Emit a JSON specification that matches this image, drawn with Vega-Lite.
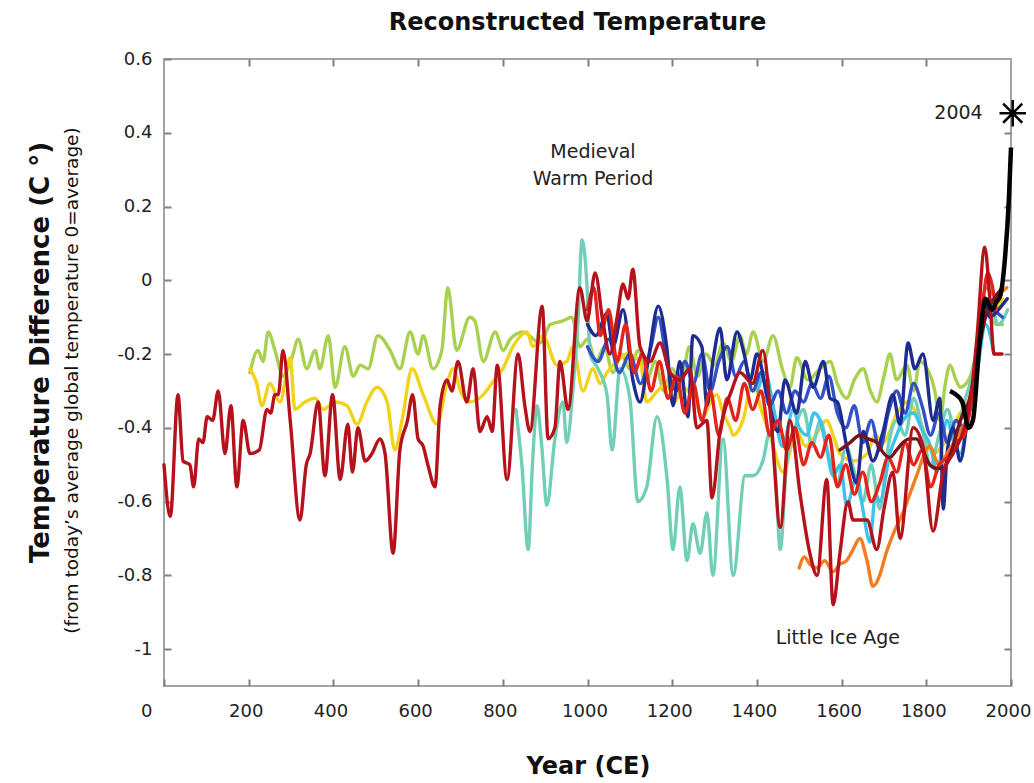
{
  "$schema": "https://vega.github.io/schema/vega-lite/v6.json",
  "width": 847,
  "height": 627,
  "autosize": {"type": "none"},
  "padding": {"left": 164, "top": 59, "right": 23, "bottom": 97},
  "background": "white",
  "title": {"text": "Reconstructed Temperature", "font": "DejaVu Sans", "fontSize": 24, "fontWeight": "bold", "color": "#111111", "anchor": "middle", "offset": 15, "dx": -10},
  "config": {
    "view": {"stroke": "#a3a3a3", "strokeWidth": 2},
    "axis": {"grid": false, "domain": false, "labelFont": "DejaVu Sans", "labelFontSize": 18, "labelColor": "#222222", "tickColor": "#808080", "tickSize": 7, "tickWidth": 2, "offset": -7, "titleFont": "DejaVu Sans", "titleColor": "#111111"}
  },
  "datasets": {
    "series": [
      {"series":"green","year":203,"temp":-0.25},{"series":"green","year":222,"temp":-0.19},{"series":"green","year":234,"temp":-0.22},{"series":"green","year":246,"temp":-0.14},{"series":"green","year":262,"temp":-0.19},{"series":"green","year":281,"temp":-0.26},{"series":"green","year":302,"temp":-0.21},{"series":"green","year":317,"temp":-0.16},{"series":"green","year":337,"temp":-0.24},{"series":"green","year":357,"temp":-0.19},{"series":"green","year":368,"temp":-0.24},{"series":"green","year":388,"temp":-0.15},{"series":"green","year":404,"temp":-0.29},{"series":"green","year":427,"temp":-0.18},{"series":"green","year":447,"temp":-0.26},{"series":"green","year":463,"temp":-0.23},{"series":"green","year":482,"temp":-0.24},{"series":"green","year":505,"temp":-0.15},{"series":"green","year":534,"temp":-0.19},{"series":"green","year":557,"temp":-0.24},{"series":"green","year":581,"temp":-0.14},{"series":"green","year":600,"temp":-0.2},{"series":"green","year":612,"temp":-0.15},{"series":"green","year":635,"temp":-0.24},{"series":"green","year":656,"temp":-0.19},{"series":"green","year":670,"temp":-0.02},{"series":"green","year":691,"temp":-0.19},{"series":"green","year":722,"temp":-0.1},{"series":"green","year":734,"temp":-0.11},{"series":"green","year":754,"temp":-0.22},{"series":"green","year":782,"temp":-0.14},{"series":"green","year":801,"temp":-0.19},{"series":"green","year":817,"temp":-0.16},{"series":"green","year":848,"temp":-0.14},{"series":"green","year":888,"temp":-0.17},{"series":"green","year":912,"temp":-0.12},{"series":"green","year":942,"temp":-0.11},{"series":"green","year":963,"temp":-0.1},{"series":"green","year":982,"temp":-0.18},{"series":"green","year":1000,"temp":-0.16},{"series":"green","year":1020,"temp":-0.22},{"series":"green","year":1040,"temp":-0.18},{"series":"green","year":1060,"temp":-0.25},{"series":"green","year":1080,"temp":-0.2},{"series":"green","year":1100,"temp":-0.24},{"series":"green","year":1120,"temp":-0.19},{"series":"green","year":1140,"temp":-0.27},{"series":"green","year":1160,"temp":-0.22},{"series":"green","year":1180,"temp":-0.3},{"series":"green","year":1200,"temp":-0.24},{"series":"green","year":1220,"temp":-0.29},{"series":"green","year":1240,"temp":-0.18},{"series":"green","year":1260,"temp":-0.26},{"series":"green","year":1280,"temp":-0.2},{"series":"green","year":1300,"temp":-0.23},{"series":"green","year":1320,"temp":-0.17},{"series":"green","year":1340,"temp":-0.22},{"series":"green","year":1360,"temp":-0.15},{"series":"green","year":1375,"temp":-0.2},{"series":"green","year":1391,"temp":-0.14},{"series":"green","year":1415,"temp":-0.22},{"series":"green","year":1438,"temp":-0.15},{"series":"green","year":1460,"temp":-0.24},{"series":"green","year":1478,"temp":-0.29},{"series":"green","year":1494,"temp":-0.21},{"series":"green","year":1520,"temp":-0.27},{"series":"green","year":1549,"temp":-0.24},{"series":"green","year":1573,"temp":-0.22},{"series":"green","year":1590,"temp":-0.28},{"series":"green","year":1612,"temp":-0.32},{"series":"green","year":1630,"temp":-0.27},{"series":"green","year":1651,"temp":-0.24},{"series":"green","year":1668,"temp":-0.3},{"series":"green","year":1683,"temp":-0.33},{"series":"green","year":1700,"temp":-0.26},{"series":"green","year":1714,"temp":-0.2},{"series":"green","year":1730,"temp":-0.27},{"series":"green","year":1754,"temp":-0.23},{"series":"green","year":1770,"temp":-0.3},{"series":"green","year":1785,"temp":-0.22},{"series":"green","year":1802,"temp":-0.24},{"series":"green","year":1820,"temp":-0.3},{"series":"green","year":1832,"temp":-0.38},{"series":"green","year":1845,"temp":-0.28},{"series":"green","year":1856,"temp":-0.23},{"series":"green","year":1870,"temp":-0.27},{"series":"green","year":1880,"temp":-0.29},{"series":"green","year":1900,"temp":-0.27},{"series":"green","year":1920,"temp":-0.18},{"series":"green","year":1935,"temp":-0.05},{"series":"green","year":1950,"temp":-0.09},{"series":"green","year":1965,"temp":-0.12},{"series":"green","year":1980,"temp":-0.12},

      {"series":"yellow","year":203,"temp":-0.24},{"series":"yellow","year":219,"temp":-0.28},{"series":"yellow","year":231,"temp":-0.34},{"series":"yellow","year":250,"temp":-0.28},{"series":"yellow","year":274,"temp":-0.33},{"series":"yellow","year":298,"temp":-0.21},{"series":"yellow","year":309,"temp":-0.35},{"series":"yellow","year":333,"temp":-0.33},{"series":"yellow","year":357,"temp":-0.32},{"series":"yellow","year":376,"temp":-0.35},{"series":"yellow","year":404,"temp":-0.33},{"series":"yellow","year":432,"temp":-0.34},{"series":"yellow","year":456,"temp":-0.39},{"series":"yellow","year":479,"temp":-0.33},{"series":"yellow","year":503,"temp":-0.29},{"series":"yellow","year":527,"temp":-0.33},{"series":"yellow","year":545,"temp":-0.46},{"series":"yellow","year":562,"temp":-0.38},{"series":"yellow","year":586,"temp":-0.24},{"series":"yellow","year":612,"temp":-0.31},{"series":"yellow","year":645,"temp":-0.39},{"series":"yellow","year":668,"temp":-0.28},{"series":"yellow","year":683,"temp":-0.24},{"series":"yellow","year":700,"temp":-0.3},{"series":"yellow","year":722,"temp":-0.33},{"series":"yellow","year":754,"temp":-0.31},{"series":"yellow","year":780,"temp":-0.27},{"series":"yellow","year":800,"temp":-0.24},{"series":"yellow","year":824,"temp":-0.18},{"series":"yellow","year":857,"temp":-0.14},{"series":"yellow","year":871,"temp":-0.18},{"series":"yellow","year":895,"temp":-0.15},{"series":"yellow","year":928,"temp":-0.23},{"series":"yellow","year":951,"temp":-0.22},{"series":"yellow","year":966,"temp":-0.18},{"series":"yellow","year":989,"temp":-0.3},{"series":"yellow","year":1013,"temp":-0.24},{"series":"yellow","year":1030,"temp":-0.28},{"series":"yellow","year":1046,"temp":-0.25},{"series":"yellow","year":1070,"temp":-0.22},{"series":"yellow","year":1093,"temp":-0.2},{"series":"yellow","year":1124,"temp":-0.22},{"series":"yellow","year":1140,"temp":-0.33},{"series":"yellow","year":1165,"temp":-0.3},{"series":"yellow","year":1187,"temp":-0.28},{"series":"yellow","year":1205,"temp":-0.33},{"series":"yellow","year":1226,"temp":-0.29},{"series":"yellow","year":1250,"temp":-0.32},{"series":"yellow","year":1273,"temp":-0.37},{"series":"yellow","year":1290,"temp":-0.33},{"series":"yellow","year":1305,"temp":-0.31},{"series":"yellow","year":1320,"temp":-0.36},{"series":"yellow","year":1337,"temp":-0.4},{"series":"yellow","year":1344,"temp":-0.42},{"series":"yellow","year":1367,"temp":-0.38},{"series":"yellow","year":1391,"temp":-0.27},{"series":"yellow","year":1410,"temp":-0.35},{"series":"yellow","year":1431,"temp":-0.42},{"series":"yellow","year":1462,"temp":-0.52},{"series":"yellow","year":1494,"temp":-0.41},{"series":"yellow","year":1515,"temp":-0.45},{"series":"yellow","year":1533,"temp":-0.43},{"series":"yellow","year":1565,"temp":-0.38},{"series":"yellow","year":1580,"temp":-0.42},{"series":"yellow","year":1596,"temp":-0.47},{"series":"yellow","year":1627,"temp":-0.49},{"series":"yellow","year":1660,"temp":-0.47},{"series":"yellow","year":1680,"temp":-0.42},{"series":"yellow","year":1698,"temp":-0.44},{"series":"yellow","year":1731,"temp":-0.36},{"series":"yellow","year":1754,"temp":-0.33},{"series":"yellow","year":1785,"temp":-0.38},{"series":"yellow","year":1816,"temp":-0.47},{"series":"yellow","year":1849,"temp":-0.43},{"series":"yellow","year":1880,"temp":-0.36},{"series":"yellow","year":1900,"temp":-0.33},{"series":"yellow","year":1920,"temp":-0.2},{"series":"yellow","year":1940,"temp":-0.06},{"series":"yellow","year":1960,"temp":-0.08},{"series":"yellow","year":1980,"temp":-0.05},

      {"series":"teal","year":831,"temp":-0.35},{"series":"teal","year":845,"temp":-0.5},{"series":"teal","year":860,"temp":-0.73},{"series":"teal","year":870,"temp":-0.5},{"series":"teal","year":881,"temp":-0.34},{"series":"teal","year":892,"temp":-0.45},{"series":"teal","year":904,"temp":-0.61},{"series":"teal","year":923,"temp":-0.43},{"series":"teal","year":942,"temp":-0.33},{"series":"teal","year":951,"temp":-0.44},{"series":"teal","year":966,"temp":-0.29},{"series":"teal","year":978,"temp":-0.1},{"series":"teal","year":987,"temp":0.11},{"series":"teal","year":999,"temp":-0.02},{"series":"teal","year":1006,"temp":-0.2},{"series":"teal","year":1025,"temp":-0.24},{"series":"teal","year":1046,"temp":-0.31},{"series":"teal","year":1058,"temp":-0.46},{"series":"teal","year":1077,"temp":-0.24},{"series":"teal","year":1100,"temp":-0.32},{"series":"teal","year":1119,"temp":-0.6},{"series":"teal","year":1140,"temp":-0.56},{"series":"teal","year":1164,"temp":-0.37},{"series":"teal","year":1188,"temp":-0.54},{"series":"teal","year":1202,"temp":-0.73},{"series":"teal","year":1218,"temp":-0.56},{"series":"teal","year":1235,"temp":-0.76},{"series":"teal","year":1249,"temp":-0.66},{"series":"teal","year":1266,"temp":-0.74},{"series":"teal","year":1282,"temp":-0.63},{"series":"teal","year":1296,"temp":-0.8},{"series":"teal","year":1320,"temp":-0.43},{"series":"teal","year":1344,"temp":-0.8},{"series":"teal","year":1372,"temp":-0.53},{"series":"teal","year":1391,"temp":-0.53},{"series":"teal","year":1414,"temp":-0.49},{"series":"teal","year":1431,"temp":-0.41},{"series":"teal","year":1445,"temp":-0.55},{"series":"teal","year":1455,"temp":-0.73},{"series":"teal","year":1470,"temp":-0.5},{"series":"teal","year":1490,"temp":-0.4},{"series":"teal","year":1510,"temp":-0.35},{"series":"teal","year":1530,"temp":-0.45},{"series":"teal","year":1550,"temp":-0.38},{"series":"teal","year":1570,"temp":-0.48},{"series":"teal","year":1590,"temp":-0.55},{"series":"teal","year":1610,"temp":-0.45},{"series":"teal","year":1630,"temp":-0.52},{"series":"teal","year":1650,"temp":-0.6},{"series":"teal","year":1670,"temp":-0.5},{"series":"teal","year":1690,"temp":-0.62},{"series":"teal","year":1710,"temp":-0.45},{"series":"teal","year":1730,"temp":-0.38},{"series":"teal","year":1750,"temp":-0.42},{"series":"teal","year":1770,"temp":-0.32},{"series":"teal","year":1790,"temp":-0.4},{"series":"teal","year":1810,"temp":-0.5},{"series":"teal","year":1830,"temp":-0.42},{"series":"teal","year":1850,"temp":-0.35},{"series":"teal","year":1870,"temp":-0.42},{"series":"teal","year":1890,"temp":-0.33},{"series":"teal","year":1910,"temp":-0.25},{"series":"teal","year":1930,"temp":-0.1},{"series":"teal","year":1950,"temp":-0.05},{"series":"teal","year":1970,"temp":-0.12},{"series":"teal","year":1992,"temp":-0.08},

      {"series":"cyan","year":1402,"temp":-0.3},{"series":"cyan","year":1420,"temp":-0.25},{"series":"cyan","year":1440,"temp":-0.35},{"series":"cyan","year":1460,"temp":-0.45},{"series":"cyan","year":1486,"temp":-0.35},{"series":"cyan","year":1500,"temp":-0.4},{"series":"cyan","year":1518,"temp":-0.42},{"series":"cyan","year":1535,"temp":-0.36},{"series":"cyan","year":1549,"temp":-0.38},{"series":"cyan","year":1565,"temp":-0.46},{"series":"cyan","year":1580,"temp":-0.53},{"series":"cyan","year":1597,"temp":-0.5},{"series":"cyan","year":1612,"temp":-0.61},{"series":"cyan","year":1636,"temp":-0.53},{"series":"cyan","year":1650,"temp":-0.62},{"series":"cyan","year":1667,"temp":-0.71},{"series":"cyan","year":1680,"temp":-0.58},{"series":"cyan","year":1690,"temp":-0.6},{"series":"cyan","year":1714,"temp":-0.47},{"series":"cyan","year":1730,"temp":-0.42},{"series":"cyan","year":1745,"temp":-0.38},{"series":"cyan","year":1769,"temp":-0.36},{"series":"cyan","year":1792,"temp":-0.41},{"series":"cyan","year":1810,"temp":-0.45},{"series":"cyan","year":1825,"temp":-0.52},{"series":"cyan","year":1849,"temp":-0.38},{"series":"cyan","year":1865,"temp":-0.44},{"series":"cyan","year":1880,"temp":-0.47},{"series":"cyan","year":1900,"temp":-0.36},{"series":"cyan","year":1920,"temp":-0.25},{"series":"cyan","year":1940,"temp":-0.12},{"series":"cyan","year":1960,"temp":-0.2},

      {"series":"blue","year":1000,"temp":-0.18},{"series":"blue","year":1025,"temp":-0.22},{"series":"blue","year":1050,"temp":-0.16},{"series":"blue","year":1075,"temp":-0.25},{"series":"blue","year":1100,"temp":-0.2},{"series":"blue","year":1125,"temp":-0.28},{"series":"blue","year":1150,"temp":-0.18},{"series":"blue","year":1167,"temp":-0.1},{"series":"blue","year":1190,"temp":-0.24},{"series":"blue","year":1210,"temp":-0.3},{"series":"blue","year":1230,"temp":-0.22},{"series":"blue","year":1250,"temp":-0.28},{"series":"blue","year":1270,"temp":-0.2},{"series":"blue","year":1290,"temp":-0.3},{"series":"blue","year":1310,"temp":-0.22},{"series":"blue","year":1330,"temp":-0.18},{"series":"blue","year":1350,"temp":-0.26},{"series":"blue","year":1370,"temp":-0.22},{"series":"blue","year":1390,"temp":-0.3},{"series":"blue","year":1410,"temp":-0.25},{"series":"blue","year":1430,"temp":-0.34},{"series":"blue","year":1450,"temp":-0.3},{"series":"blue","year":1470,"temp":-0.36},{"series":"blue","year":1490,"temp":-0.3},{"series":"blue","year":1510,"temp":-0.33},{"series":"blue","year":1530,"temp":-0.28},{"series":"blue","year":1550,"temp":-0.32},{"series":"blue","year":1570,"temp":-0.26},{"series":"blue","year":1590,"temp":-0.36},{"series":"blue","year":1610,"temp":-0.4},{"series":"blue","year":1630,"temp":-0.34},{"series":"blue","year":1650,"temp":-0.44},{"series":"blue","year":1670,"temp":-0.38},{"series":"blue","year":1690,"temp":-0.46},{"series":"blue","year":1710,"temp":-0.36},{"series":"blue","year":1730,"temp":-0.3},{"series":"blue","year":1750,"temp":-0.36},{"series":"blue","year":1770,"temp":-0.28},{"series":"blue","year":1790,"temp":-0.34},{"series":"blue","year":1810,"temp":-0.42},{"series":"blue","year":1830,"temp":-0.36},{"series":"blue","year":1850,"temp":-0.44},{"series":"blue","year":1870,"temp":-0.38},{"series":"blue","year":1890,"temp":-0.4},{"series":"blue","year":1910,"temp":-0.3},{"series":"blue","year":1930,"temp":-0.12},{"series":"blue","year":1950,"temp":-0.08},{"series":"blue","year":1980,"temp":-0.1},

      {"series":"navy","year":1000,"temp":-0.12},{"series":"navy","year":1020,"temp":-0.15},{"series":"navy","year":1046,"temp":-0.09},{"series":"navy","year":1060,"temp":-0.18},{"series":"navy","year":1084,"temp":-0.08},{"series":"navy","year":1107,"temp":-0.27},{"series":"navy","year":1124,"temp":-0.33},{"series":"navy","year":1143,"temp":-0.22},{"series":"navy","year":1167,"temp":-0.07},{"series":"navy","year":1187,"temp":-0.18},{"series":"navy","year":1202,"temp":-0.34},{"series":"navy","year":1218,"temp":-0.22},{"series":"navy","year":1237,"temp":-0.37},{"series":"navy","year":1249,"temp":-0.15},{"series":"navy","year":1270,"temp":-0.18},{"series":"navy","year":1282,"temp":-0.34},{"series":"navy","year":1296,"temp":-0.22},{"series":"navy","year":1313,"temp":-0.13},{"series":"navy","year":1329,"temp":-0.27},{"series":"navy","year":1353,"temp":-0.14},{"series":"navy","year":1370,"temp":-0.2},{"series":"navy","year":1384,"temp":-0.27},{"series":"navy","year":1400,"temp":-0.2},{"series":"navy","year":1424,"temp":-0.31},{"series":"navy","year":1450,"temp":-0.41},{"series":"navy","year":1466,"temp":-0.27},{"series":"navy","year":1494,"temp":-0.36},{"series":"navy","year":1514,"temp":-0.22},{"series":"navy","year":1533,"temp":-0.29},{"series":"navy","year":1557,"temp":-0.22},{"series":"navy","year":1573,"temp":-0.32},{"series":"navy","year":1590,"temp":-0.33},{"series":"navy","year":1612,"temp":-0.45},{"series":"navy","year":1636,"temp":-0.55},{"series":"navy","year":1651,"temp":-0.41},{"series":"navy","year":1674,"temp":-0.49},{"series":"navy","year":1698,"temp":-0.41},{"series":"navy","year":1721,"temp":-0.31},{"series":"navy","year":1738,"temp":-0.39},{"series":"navy","year":1757,"temp":-0.17},{"series":"navy","year":1773,"temp":-0.24},{"series":"navy","year":1792,"temp":-0.2},{"series":"navy","year":1816,"temp":-0.38},{"series":"navy","year":1832,"temp":-0.32},{"series":"navy","year":1840,"temp":-0.62},{"series":"navy","year":1849,"temp":-0.47},{"series":"navy","year":1863,"temp":-0.4},{"series":"navy","year":1880,"temp":-0.49},{"series":"navy","year":1900,"temp":-0.35},{"series":"navy","year":1920,"temp":-0.2},{"series":"navy","year":1935,"temp":-0.05},{"series":"navy","year":1950,"temp":-0.1},{"series":"navy","year":1970,"temp":-0.08},{"series":"navy","year":1991,"temp":-0.05},

      {"series":"orange","year":1500,"temp":-0.78},{"series":"orange","year":1512,"temp":-0.75},{"series":"orange","year":1525,"temp":-0.77},{"series":"orange","year":1542,"temp":-0.78},{"series":"orange","year":1560,"temp":-0.76},{"series":"orange","year":1580,"temp":-0.79},{"series":"orange","year":1596,"temp":-0.77},{"series":"orange","year":1612,"temp":-0.76},{"series":"orange","year":1627,"temp":-0.73},{"series":"orange","year":1643,"temp":-0.7},{"series":"orange","year":1660,"temp":-0.76},{"series":"orange","year":1674,"temp":-0.83},{"series":"orange","year":1690,"temp":-0.8},{"series":"orange","year":1705,"temp":-0.74},{"series":"orange","year":1721,"temp":-0.69},{"series":"orange","year":1745,"temp":-0.63},{"series":"orange","year":1777,"temp":-0.53},{"series":"orange","year":1808,"temp":-0.45},{"series":"orange","year":1830,"temp":-0.5},{"series":"orange","year":1849,"temp":-0.47},{"series":"orange","year":1865,"temp":-0.44},{"series":"orange","year":1880,"temp":-0.41},{"series":"orange","year":1900,"temp":-0.36},{"series":"orange","year":1920,"temp":-0.2},{"series":"orange","year":1940,"temp":-0.02},{"series":"orange","year":1960,"temp":-0.04},{"series":"orange","year":1990,"temp":-0.02},

      {"series":"red","year":1000,"temp":-0.08},{"series":"red","year":1015,"temp":-0.02},{"series":"red","year":1030,"temp":-0.15},{"series":"red","year":1050,"temp":-0.08},{"series":"red","year":1070,"temp":-0.22},{"series":"red","year":1090,"temp":-0.12},{"series":"red","year":1110,"temp":-0.25},{"series":"red","year":1130,"temp":-0.2},{"series":"red","year":1150,"temp":-0.3},{"series":"red","year":1170,"temp":-0.22},{"series":"red","year":1190,"temp":-0.32},{"series":"red","year":1210,"temp":-0.26},{"series":"red","year":1230,"temp":-0.36},{"series":"red","year":1250,"temp":-0.28},{"series":"red","year":1270,"temp":-0.38},{"series":"red","year":1290,"temp":-0.3},{"series":"red","year":1310,"temp":-0.42},{"series":"red","year":1330,"temp":-0.32},{"series":"red","year":1350,"temp":-0.38},{"series":"red","year":1370,"temp":-0.28},{"series":"red","year":1390,"temp":-0.35},{"series":"red","year":1410,"temp":-0.3},{"series":"red","year":1430,"temp":-0.42},{"series":"red","year":1450,"temp":-0.38},{"series":"red","year":1470,"temp":-0.46},{"series":"red","year":1490,"temp":-0.4},{"series":"red","year":1510,"temp":-0.5},{"series":"red","year":1530,"temp":-0.44},{"series":"red","year":1550,"temp":-0.48},{"series":"red","year":1570,"temp":-0.42},{"series":"red","year":1590,"temp":-0.56},{"series":"red","year":1610,"temp":-0.5},{"series":"red","year":1630,"temp":-0.58},{"series":"red","year":1650,"temp":-0.52},{"series":"red","year":1670,"temp":-0.6},{"series":"red","year":1690,"temp":-0.55},{"series":"red","year":1710,"temp":-0.48},{"series":"red","year":1730,"temp":-0.52},{"series":"red","year":1750,"temp":-0.44},{"series":"red","year":1770,"temp":-0.5},{"series":"red","year":1790,"temp":-0.46},{"series":"red","year":1810,"temp":-0.56},{"series":"red","year":1830,"temp":-0.5},{"series":"red","year":1850,"temp":-0.48},{"series":"red","year":1870,"temp":-0.44},{"series":"red","year":1890,"temp":-0.42},{"series":"red","year":1910,"temp":-0.3},{"series":"red","year":1930,"temp":-0.1},{"series":"red","year":1945,"temp":0.02},{"series":"red","year":1965,"temp":-0.08},

      {"series":"maroon","year":1596,"temp":-0.46},{"series":"maroon","year":1620,"temp":-0.44},{"series":"maroon","year":1643,"temp":-0.42},{"series":"maroon","year":1663,"temp":-0.43},{"series":"maroon","year":1683,"temp":-0.44},{"series":"maroon","year":1700,"temp":-0.47},{"series":"maroon","year":1714,"temp":-0.48},{"series":"maroon","year":1730,"temp":-0.46},{"series":"maroon","year":1745,"temp":-0.44},{"series":"maroon","year":1760,"temp":-0.43},{"series":"maroon","year":1777,"temp":-0.43},{"series":"maroon","year":1792,"temp":-0.46},{"series":"maroon","year":1808,"temp":-0.5},{"series":"maroon","year":1825,"temp":-0.51},{"series":"maroon","year":1840,"temp":-0.51},{"series":"maroon","year":1855,"temp":-0.48},{"series":"maroon","year":1863,"temp":-0.45},{"series":"maroon","year":1875,"temp":-0.4},{"series":"maroon","year":1887,"temp":-0.36},{"series":"maroon","year":1900,"temp":-0.33},{"series":"maroon","year":1915,"temp":-0.25},{"series":"maroon","year":1930,"temp":-0.15},{"series":"maroon","year":1945,"temp":-0.08},{"series":"maroon","year":1960,"temp":-0.05},{"series":"maroon","year":1980,"temp":-0.02},

      {"series":"darkred","year":0,"temp":-0.5},{"series":"darkred","year":15,"temp":-0.64},{"series":"darkred","year":33,"temp":-0.31},{"series":"darkred","year":45,"temp":-0.49},{"series":"darkred","year":61,"temp":-0.5},{"series":"darkred","year":70,"temp":-0.56},{"series":"darkred","year":82,"temp":-0.43},{"series":"darkred","year":92,"temp":-0.44},{"series":"darkred","year":102,"temp":-0.37},{"series":"darkred","year":115,"temp":-0.38},{"series":"darkred","year":128,"temp":-0.3},{"series":"darkred","year":144,"temp":-0.47},{"series":"darkred","year":158,"temp":-0.34},{"series":"darkred","year":172,"temp":-0.56},{"series":"darkred","year":187,"temp":-0.38},{"series":"darkred","year":203,"temp":-0.47},{"series":"darkred","year":225,"temp":-0.46},{"series":"darkred","year":243,"temp":-0.35},{"series":"darkred","year":252,"temp":-0.36},{"series":"darkred","year":262,"temp":-0.31},{"series":"darkred","year":270,"temp":-0.31},{"series":"darkred","year":281,"temp":-0.19},{"series":"darkred","year":298,"temp":-0.38},{"series":"darkred","year":321,"temp":-0.65},{"series":"darkred","year":336,"temp":-0.5},{"series":"darkred","year":345,"temp":-0.47},{"series":"darkred","year":364,"temp":-0.33},{"series":"darkred","year":380,"temp":-0.53},{"series":"darkred","year":398,"temp":-0.31},{"series":"darkred","year":416,"temp":-0.54},{"series":"darkred","year":434,"temp":-0.39},{"series":"darkred","year":445,"temp":-0.52},{"series":"darkred","year":458,"temp":-0.4},{"series":"darkred","year":475,"temp":-0.49},{"series":"darkred","year":491,"temp":-0.47},{"series":"darkred","year":510,"temp":-0.43},{"series":"darkred","year":522,"temp":-0.47},{"series":"darkred","year":541,"temp":-0.74},{"series":"darkred","year":557,"temp":-0.46},{"series":"darkred","year":575,"temp":-0.38},{"series":"darkred","year":587,"temp":-0.31},{"series":"darkred","year":600,"temp":-0.43},{"series":"darkred","year":612,"temp":-0.45},{"series":"darkred","year":623,"temp":-0.5},{"series":"darkred","year":640,"temp":-0.56},{"series":"darkred","year":652,"temp":-0.34},{"series":"darkred","year":668,"temp":-0.27},{"series":"darkred","year":680,"temp":-0.3},{"series":"darkred","year":694,"temp":-0.22},{"series":"darkred","year":715,"temp":-0.33},{"series":"darkred","year":730,"temp":-0.24},{"series":"darkred","year":746,"temp":-0.41},{"series":"darkred","year":763,"temp":-0.37},{"series":"darkred","year":775,"temp":-0.41},{"series":"darkred","year":787,"temp":-0.23},{"series":"darkred","year":810,"temp":-0.54},{"series":"darkred","year":836,"temp":-0.2},{"series":"darkred","year":852,"temp":-0.34},{"series":"darkred","year":864,"temp":-0.41},{"series":"darkred","year":893,"temp":-0.07},{"series":"darkred","year":907,"temp":-0.43},{"series":"darkred","year":923,"temp":-0.4},{"series":"darkred","year":935,"temp":-0.22},{"series":"darkred","year":954,"temp":-0.35},{"series":"darkred","year":982,"temp":-0.02},{"series":"darkred","year":999,"temp":-0.11},{"series":"darkred","year":1018,"temp":0.02},{"series":"darkred","year":1036,"temp":-0.11},{"series":"darkred","year":1053,"temp":-0.2},{"series":"darkred","year":1070,"temp":-0.1},{"series":"darkred","year":1084,"temp":-0.01},{"series":"darkred","year":1096,"temp":-0.05},{"series":"darkred","year":1107,"temp":0.03},{"series":"darkred","year":1124,"temp":-0.18},{"series":"darkred","year":1148,"temp":-0.22},{"series":"darkred","year":1171,"temp":-0.17},{"series":"darkred","year":1195,"temp":-0.25},{"series":"darkred","year":1218,"temp":-0.27},{"series":"darkred","year":1242,"temp":-0.24},{"series":"darkred","year":1258,"temp":-0.4},{"series":"darkred","year":1282,"temp":-0.38},{"series":"darkred","year":1294,"temp":-0.59},{"series":"darkred","year":1313,"temp":-0.41},{"series":"darkred","year":1340,"temp":-0.3},{"series":"darkred","year":1360,"temp":-0.25},{"series":"darkred","year":1390,"temp":-0.28},{"series":"darkred","year":1414,"temp":-0.19},{"series":"darkred","year":1435,"temp":-0.4},{"series":"darkred","year":1455,"temp":-0.67},{"series":"darkred","year":1478,"temp":-0.38},{"series":"darkred","year":1502,"temp":-0.58},{"series":"darkred","year":1525,"temp":-0.74},{"series":"darkred","year":1542,"temp":-0.8},{"series":"darkred","year":1565,"temp":-0.54},{"series":"darkred","year":1580,"temp":-0.88},{"series":"darkred","year":1596,"temp":-0.74},{"series":"darkred","year":1615,"temp":-0.6},{"series":"darkred","year":1627,"temp":-0.65},{"series":"darkred","year":1660,"temp":-0.65},{"series":"darkred","year":1683,"temp":-0.73},{"series":"darkred","year":1700,"temp":-0.62},{"series":"darkred","year":1721,"temp":-0.52},{"series":"darkred","year":1738,"temp":-0.7},{"series":"darkred","year":1769,"temp":-0.4},{"series":"darkred","year":1792,"temp":-0.45},{"series":"darkred","year":1816,"temp":-0.68},{"series":"darkred","year":1840,"temp":-0.52},{"series":"darkred","year":1863,"temp":-0.47},{"series":"darkred","year":1887,"temp":-0.41},{"series":"darkred","year":1905,"temp":-0.32},{"series":"darkred","year":1920,"temp":-0.15},{"series":"darkred","year":1938,"temp":0.09},{"series":"darkred","year":1950,"temp":-0.05},{"series":"darkred","year":1960,"temp":-0.2},{"series":"darkred","year":1979,"temp":-0.2}
    ],
    "instrumental": [
      {"year":1856,"temp":-0.3},{"year":1870,"temp":-0.31},{"year":1885,"temp":-0.33},{"year":1900,"temp":-0.4},{"year":1910,"temp":-0.38},{"year":1925,"temp":-0.18},{"year":1940,"temp":-0.05},{"year":1955,"temp":-0.08},{"year":1965,"temp":-0.06},{"year":1975,"temp":-0.04},{"year":1985,"temp":0.05},{"year":1995,"temp":0.22},{"year":2000,"temp":0.36}
    ],
    "marker": [{"year":2004,"temp":0.453,"label":"2004"}],
    "notes": [
      {"year":1013,"temp":0.347,"label":"Medieval\nWarm Period"},
      {"year":1591,"temp":-0.969,"label":"Little Ice Age"}
    ]
  },
  "layer": [
    {
      "data": {"name": "series"},
      "mark": {"type": "line", "strokeWidth": 3.4, "strokeJoin": "round", "strokeCap": "round", "interpolate": "monotone"},
      "encoding": {
        "x": {"field": "year", "type": "quantitative", "scale": {"domain": [0, 2000], "nice": false, "zero": false},
          "axis": {"orient": "bottom", "values": [0,200,400,600,800,1000,1200,1400,1600,1800,2000], "format": "d", "title": "Year (CE)", "titleFontSize": 24, "titleFontWeight": "bold", "titleX": 424, "titleY": 87, "titleBaseline": "middle", "labelPadding": 16, "labelAlign": {"expr": "datum.value == 0 ? 'right' : 'center'"}, "labelOffset": {"expr": "datum.value == 0 ? -12 : -3"}}},
        "y": {"field": "temp", "type": "quantitative", "scale": {"domain": [-1.1, 0.6], "nice": false, "zero": false},
          "axis": {"orient": "left", "values": [-1,-0.8,-0.6,-0.4,-0.2,0,0.2,0.4,0.6], "labelExpr": "replace(format(datum.value, '.1~f'), '\u2212', '-')", "labelPadding": 12, "title": "Temperature Difference (C °)", "titleFontSize": 26, "titleFontWeight": "bold", "titleX": -131, "titleY": 293, "titleBaseline": "middle", "titleAlign": "center", "titleAngle": -90}},
        "color": {"field": "series", "type": "nominal", "legend": null,
          "scale": {"domain": ["green","yellow","teal","cyan","blue","navy","orange","red","maroon","darkred"],
                    "range": ["#a8d14f","#f2d31b","#72cfb7","#3cc3e8","#3251c8","#1e2b8f","#f47c20","#e3241b","#781418","#b5121b"]}}
      }
    },
    {
      "data": {"name": "instrumental"},
      "mark": {"type": "line", "strokeWidth": 4.5, "color": "#000000", "strokeJoin": "round", "interpolate": "monotone"},
      "encoding": {
        "x": {"field": "year", "type": "quantitative", "axis": {"orient": "top", "values": [200,400,600,800,1000,1200,1400,1600,1800], "labels": false, "title": null}},
        "y": {"field": "temp", "type": "quantitative", "axis": {"orient": "right", "values": [-1,-0.8,-0.6,-0.4,-0.2,0,0.2,0.4], "labels": false, "title": null}}
      }
    },
    {
      "data": {"name": "marker"},
      "mark": {"type": "point", "shape": "M0,-1L0,1M-1,0L1,0M-0.72,-0.72L0.72,0.72M-0.72,0.72L0.72,-0.72", "filled": false, "stroke": "#000000", "strokeWidth": 2.5, "size": 700, "opacity": 1},
      "encoding": {
        "x": {"field": "year", "type": "quantitative", "axis": null},
        "y": {"field": "temp", "type": "quantitative", "axis": {"orient": "left", "offset": 0, "labels": false, "ticks": false, "domain": false, "title": "(from today’s average global temperature 0=average)", "titleFontSize": 18.5, "titleFontWeight": "normal", "titleX": -93, "titleY": 321, "titleBaseline": "middle", "titleAlign": "center", "titleAngle": -90}}
      }
    },
    {
      "data": {"name": "marker"},
      "mark": {"type": "text", "align": "right", "baseline": "middle", "dx": -30, "font": "DejaVu Sans", "fontSize": 19, "color": "#222222"},
      "encoding": {
        "x": {"field": "year", "type": "quantitative", "axis": null},
        "y": {"field": "temp", "type": "quantitative", "axis": null},
        "text": {"field": "label"}
      }
    },
    {
      "data": {"name": "notes"},
      "mark": {"type": "text", "align": "center", "baseline": "middle", "lineBreak": "\n", "lineHeight": 27, "font": "DejaVu Sans", "fontSize": 19, "color": "#222222"},
      "encoding": {
        "x": {"field": "year", "type": "quantitative", "axis": null},
        "y": {"field": "temp", "type": "quantitative", "axis": null},
        "text": {"field": "label"}
      }
    }
  ],
  "resolve": {"axis": {"x": "independent", "y": "independent"}}
}
